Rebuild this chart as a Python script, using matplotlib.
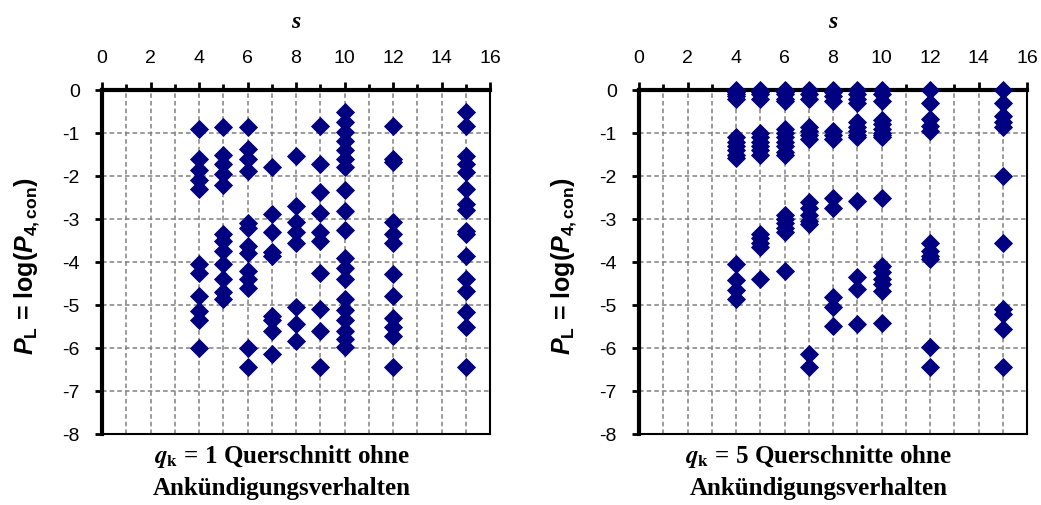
import matplotlib
matplotlib.use("Agg")
import matplotlib.pyplot as plt
from matplotlib.ticker import MultipleLocator

plt.rcParams['axes.unicode_minus'] = False
plt.rcParams['font.family'] = ['Liberation Sans', 'DejaVu Sans']
plt.rcParams['mathtext.fontset'] = 'custom'
plt.rcParams['mathtext.rm'] = 'Liberation Sans:bold'
plt.rcParams['mathtext.it'] = 'Liberation Sans:italic:bold'
plt.rcParams['mathtext.bf'] = 'Liberation Sans:bold'

# ---- data ----
s_values = [4, 5, 6, 7, 8, 9, 10, 12, 15]

left_PL = [
    [-0.9, -1.6, -1.85, -2.1, -2.3, -4.05, -4.25, -4.8, -5.15, -5.35, -6.0],
    [-0.87, -1.5, -1.72, -1.95, -2.2, -3.35, -3.5, -3.75, -4.05, -4.4, -4.7, -4.85],
    [-0.87, -1.37, -1.6, -1.88, -3.1, -3.2, -3.62, -3.8, -4.2, -4.4, -4.6, -6.0, -6.45],
    [-1.8, -2.88, -3.3, -3.77, -3.87, -5.25, -5.35, -5.6, -6.15],
    [-1.53, -2.7, -3.08, -3.3, -3.55, -5.05, -5.45, -5.83],
    [-0.83, -1.72, -2.38, -2.85, -3.3, -3.52, -4.26, -5.1, -5.6, -6.45],
    [-0.52, -0.75, -0.98, -1.18, -1.4, -1.6, -1.8, -2.33, -2.82, -3.25, -3.9,
     -4.15, -4.4, -4.85, -5.12, -5.36, -5.6, -5.8, -5.98],
    [-0.83, -1.6, -1.68, -3.08, -3.35, -3.55, -4.28, -4.78, -5.3, -5.52, -5.72, -6.45],
    [-0.52, -0.83, -1.53, -1.72, -1.9, -2.3, -2.65, -2.78, -3.27, -3.35, -3.85,
     -4.4, -4.67, -5.17, -5.52, -6.45],
]

right_PL = [
    [0, -0.05, -0.1, -0.15, -0.2, -1.1, -1.2, -1.3, -1.4, -1.5, -1.57,
     -4.05, -4.43, -4.65, -4.85],
    [0, -0.05, -0.1, -0.2, -1.0, -1.1, -1.2, -1.3, -1.4, -1.5,
     -3.35, -3.45, -3.55, -3.65, -4.4],
    [0, -0.05, -0.1, -0.2, -0.25, -0.9, -1.0, -1.1, -1.2, -1.3, -1.45, -1.5,
     -2.9, -3.0, -3.1, -3.2, -3.3, -4.2],
    [0, -0.1, -0.2, -0.85, -0.95, -1.05, -1.15, -2.6, -2.75, -2.9, -3.05, -3.12,
     -6.15, -6.45],
    [0, -0.05, -0.15, -0.25, -0.95, -1.05, -1.15, -2.5, -2.75, -4.82, -5.05, -5.48],
    [0, -0.1, -0.2, -0.3, -0.75, -0.85, -0.95, -1.05, -1.1, -2.57, -4.36, -4.63, -5.44],
    [0, -0.1, -0.25, -0.7, -0.8, -0.9, -1.0, -1.05, -1.1, -2.5, -4.09, -4.24,
     -4.4, -4.5, -4.67, -5.41],
    [0, -0.3, -0.68, -0.83, -0.95, -3.55, -3.75, -3.85, -3.92, -5.98, -6.45],
    [0, -0.3, -0.6, -0.75, -0.87, -2.0, -3.55, -5.09, -5.2, -5.55, -6.45],
]

captions = [("1 Querschnitt ohne", "Ankündigungsverhalten"),
            ("5 Querschnitte ohne", "Ankündigungsverhalten")]

x_ticks = list(range(0, 17, 2))
y_ticks = list(range(-8, 1))

# ---- figure ----
fig = plt.figure(figsize=(10.41, 5.06), dpi=100)
ax_w = 388 / 1041
ax_h = 344 / 506
bottom = 1 - 435 / 506
lefts = [102 / 1041, 639 / 1041]

navy = '#000080'

for i, (left, data) in enumerate(zip(lefts, [left_PL, right_PL])):
    ax = fig.add_axes([left, bottom, ax_w, ax_h])
    xs, ys = [], []
    for s, vals in zip(s_values, data):
        xs.extend([s] * len(vals))
        ys.extend(vals)
    ax.plot(xs, ys, linestyle='none', marker='D', markersize=9.3,
            markerfacecolor=navy, markeredgecolor=navy, markeredgewidth=0.6,
            zorder=5, clip_on=False)

    ax.set_xlim(0, 16)
    ax.set_ylim(-8, 0)
    ax.xaxis.tick_top()
    ax.xaxis.set_label_position('top')
    ax.set_xticks(x_ticks)
    ax.set_xticklabels([str(v) for v in x_ticks])
    ax.xaxis.set_minor_locator(MultipleLocator(1))
    ax.set_yticks(y_ticks)
    ax.set_yticklabels([str(v) for v in y_ticks])
    ax.tick_params(axis='x', which='major', direction='out', length=6, width=2,
                   pad=11, top=True, bottom=False, labelsize=14)
    ax.tick_params(axis='x', which='minor', direction='out', length=4, width=2,
                   top=True, bottom=False)
    ax.tick_params(axis='y', which='major', direction='out', length=5, width=2,
                   pad=11, left=True, right=False, labelsize=14)

    ax.grid(True, which='both', color='#808080', linestyle=(0, (3, 2)),
            linewidth=1.1)
    ax.set_axisbelow(True)

    ax.spines['top'].set_linewidth(3)
    ax.spines['left'].set_linewidth(3)
    ax.spines['right'].set_linewidth(1.5)
    ax.spines['bottom'].set_linewidth(1.5)
    for sp in ax.spines.values():
        sp.set_color('black')
        sp.set_zorder(4)

    ax.set_xlabel('s', fontfamily='Liberation Serif', fontweight='bold',
                  fontstyle='italic', fontsize=17, labelpad=16)

    ylab_x = (left * 1041 - 75) / 1041
    fig.text(ylab_x, 1 - 266 / 506, r'$P_{\mathrm{L}}$ = log($P_{\mathrm{4,con}}$)',
             rotation=90, ha='center', va='center', fontsize=18,
             fontfamily='Liberation Sans', fontweight='bold')

    cx = (left * 1041 + 180) / 1041
    fig.text(cx, 1 - 457 / 506, r'$\mathbfit{q}_{\mathbf{k}}$ = ' + captions[i][0],
             ha='center', va='center', fontsize=18, fontfamily='Liberation Serif',
             fontweight='bold', math_fontfamily='stix')
    fig.text(cx, 1 - 489 / 506, captions[i][1], ha='center', va='center',
             fontsize=18, fontfamily='Liberation Serif', fontweight='bold')

fig.savefig('out.png', dpi=100)
